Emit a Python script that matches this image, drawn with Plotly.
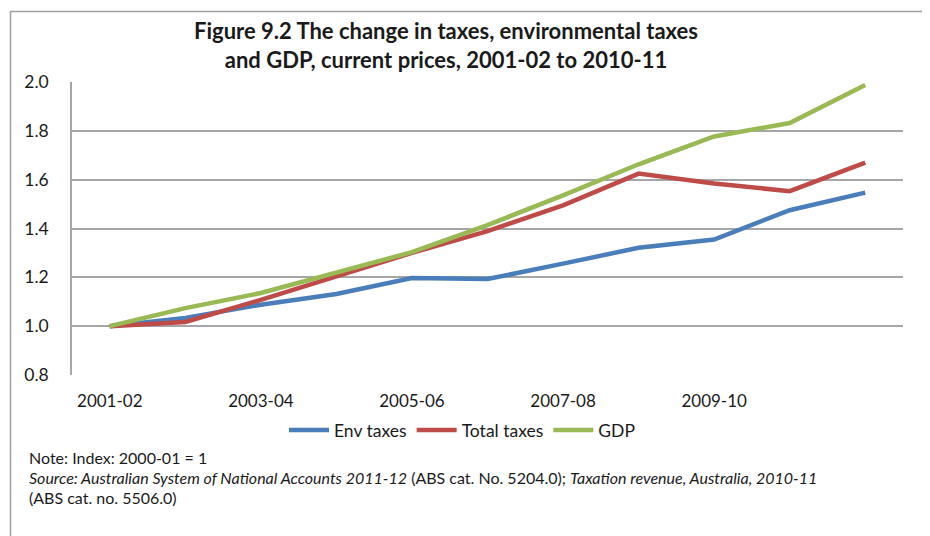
import plotly.graph_objects as go

years = ["2001-02", "2002-03", "2003-04", "2004-05", "2005-06", "2006-07",
         "2007-08", "2008-09", "2009-10", "2010-11", "2011-12"]
shown_ticks = ["2001-02", "2003-04", "2005-06", "2007-08", "2009-10"]

env_taxes = [1.000, 1.034, 1.088, 1.132, 1.197, 1.193, 1.256, 1.321, 1.355, 1.475, 1.547]
total_taxes = [1.000, 1.017, 1.108, 1.204, 1.300, 1.389, 1.495, 1.625, 1.584, 1.553, 1.670]
gdp = [1.000, 1.074, 1.136, 1.218, 1.303, 1.414, 1.536, 1.663, 1.777, 1.832, 1.988]

FONT = "Lato, Carlito, Calibri, sans-serif"
TXT = "#1a1a1a"

# page offset (body margin) and plot area in page pixels
OFF = 8
W, H = 930 - OFF, 536 - OFF
L, R, T, B = 72, 903, 82, 375


def px(x):
    return (x - L) / (R - L)


def py(y):
    return (B - y) / (B - T)


fig = go.Figure()

fig.add_trace(go.Scatter(x=years, y=env_taxes, mode="lines", name="Env taxes",
                         line=dict(color="#4a7ebb", width=4.5)))
fig.add_trace(go.Scatter(x=years, y=total_taxes, mode="lines", name="Total taxes",
                         line=dict(color="#be4b48", width=4.5)))
fig.add_trace(go.Scatter(x=years, y=gdp, mode="lines", name="GDP",
                         line=dict(color="#98b954", width=4.5)))

# outer chart border (left and top edge)
fig.add_shape(type="path", xref="paper", yref="paper",
              path=f"M {px(10.5)} {py(600)} L {px(10.5)} {py(11.5)} L {px(940)} {py(11.5)}",
              line=dict(color="#a0a0a0", width=1.5))

fig.add_annotation(text="<b>Figure 9.2 The change in taxes, environmental taxes<br>"
                        "and GDP, current prices, 2001-02 to 2010-11</b>",
                   xref="paper", yref="paper", x=px(446), y=py(45),
                   xanchor="center", yanchor="middle", showarrow=False,
                   font=dict(size=22, color=TXT, family=FONT))

notes = [
    "Note: Index: 2000-01 = 1",
    "<i>Source: Australian System of National Accounts 2011-12</i> (ABS cat. No. 5204.0); "
    "<i>Taxation revenue, Australia, 2010-11</i>",
    "(ABS cat. no. 5506.0)",
]
for i, n in enumerate(notes):
    fig.add_annotation(text=n, xref="paper", yref="paper", x=px(27), y=py(457 + 20 * i),
                       xanchor="left", yanchor="middle", showarrow=False,
                       font=dict(size=16, color=TXT, family=FONT))

fig.update_layout(
    width=W, height=H,
    margin=dict(l=L - OFF, r=W - (R - OFF), t=T - OFF, b=H - (B - OFF)),
    paper_bgcolor="white", plot_bgcolor="white",
    font=dict(family=FONT, color=TXT, size=17),
    showlegend=True,
    legend=dict(orientation="h", x=px(462), y=py(430), xanchor="center", yanchor="middle",
                font=dict(size=17.5, color=TXT, family=FONT), itemwidth=40,
                tracegroupgap=0),
)

fig.update_xaxes(type="category", range=[-0.5, 10.5], tickvals=shown_ticks,
                 ticktext=shown_ticks, showgrid=False, showline=False, zeroline=False,
                 ticks="", ticklabelstandoff=14, tickfont=dict(size=17))
fig.update_yaxes(range=[0.8, 2.0], dtick=0.2, tickformat=".1f", showgrid=True,
                 gridcolor="#a6a6a6", gridwidth=1.5, showline=True, linecolor="#a6a6a6",
                 linewidth=1.5, zeroline=False, ticks="", ticklabelstandoff=18,
                 tickfont=dict(size=17.5))

fig.write_html("out.html")
